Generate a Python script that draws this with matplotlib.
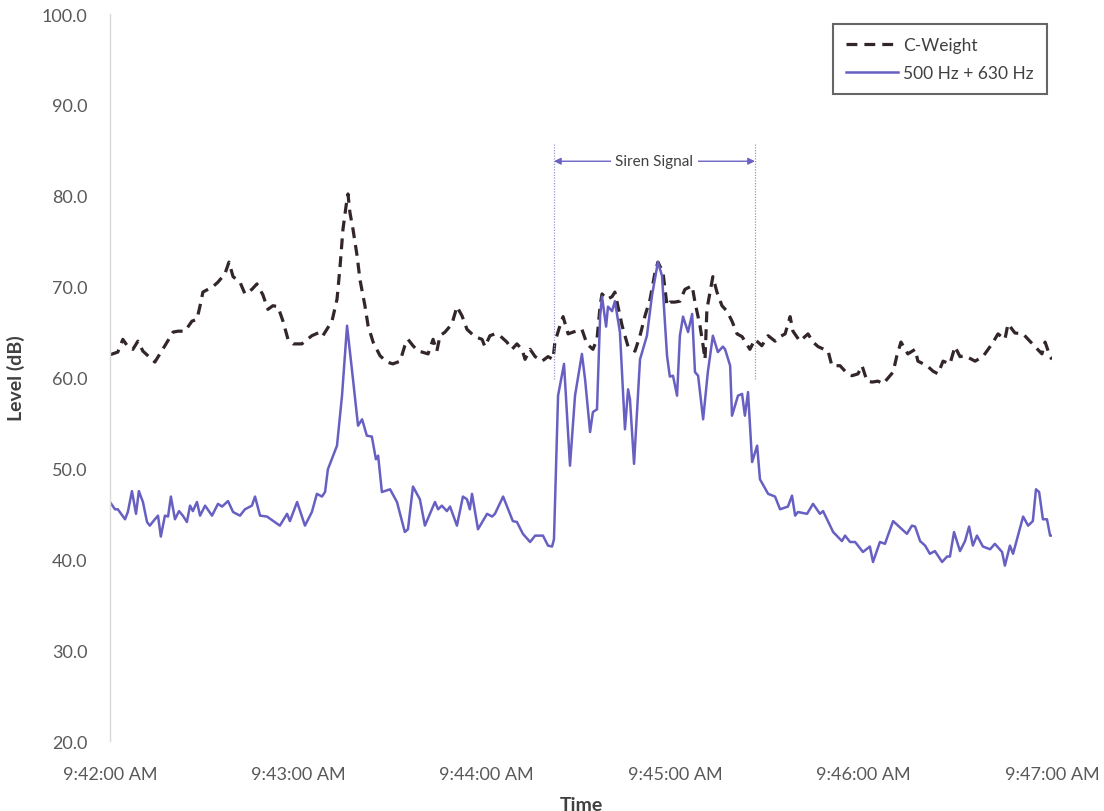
import matplotlib
matplotlib.use("Agg")
import matplotlib.pyplot as plt

plt.rcParams['font.family'] = ['Lato', 'DejaVu Sans']

# Seconds after 9:42:00 AM, C-weighted level (dB)
cw_time = [0, 2.5, 4.1, 5.7, 7.3, 8.9, 10.5, 12.1, 14.3, 15.9, 17.5, 20.1, 21.7, 23.9, 26.1,
           27.7, 28.7, 29.6, 31.2, 32.8, 34.4, 36.6, 37.9, 39.2, 41.4, 43.0, 45.2, 46.8, 48.7,
           50.3, 51.9, 53.5, 55.1, 56.7, 58.3, 61.1, 64.3, 66.9, 67.8, 70.7, 72.3, 73.2, 74.2,
           75.2, 75.8, 76.4, 77.4, 78.7, 79.6, 81.2, 82.2, 83.8, 86.0, 88.2, 90.1, 92.4, 93.9,
           94.9, 96.5, 98.1, 99.4, 101.3, 102.9, 104.1, 105.1, 106.7, 108.9, 110.5, 112.1,
           113.7, 116.2, 118.5, 119.4, 121.0, 122.6, 124.2, 126.4, 128.0, 129.6, 131.2, 132.2,
           133.8, 135.4, 137.6, 139.5, 141.1, 141.7, 143.3, 144.3, 145.9, 147.5, 150.3, 151.9,
           153.8, 155.1, 156.1, 156.7, 158.3, 159.9, 160.8, 161.8, 163.1, 165.0, 167.2, 168.8,
           170.4, 172.0, 173.6, 174.5, 176.1, 177.4, 178.3, 179.9, 181.5, 183.1, 185.4, 186.3,
           187.9, 188.9, 189.5, 190.1, 191.1, 192.0, 193.3, 194.9, 196.5, 198.1, 199.7, 201.3,
           203.8, 205.4, 207.6, 209.6, 211.8, 213.4, 215.0, 216.6, 217.5, 219.7, 222.3, 223.9,
           225.5, 228.7, 229.9, 232.5, 234.1, 236.3, 238.2, 239.5, 241.1, 242.7, 244.6, 246.2,
           249.4, 250.6, 251.9, 254.1, 256.4, 257.3, 260.2, 262.1, 263.7, 265.3, 267.5, 269.1,
           270.7, 272.3, 275.5, 278.0, 280.9, 282.8, 285.0, 286.0, 288.2, 290.8, 292.4, 294.6,
           296.8, 297.8, 299.4, 300]
cw_level = [62.5, 62.8, 64.2, 63.4, 63.1, 64.0, 62.9, 62.4, 61.7, 62.6, 63.5, 65.0, 65.1, 65.1,
            66.2, 66.4, 67.9, 69.4, 69.7, 70.0, 70.5, 71.4, 72.7, 71.1, 70.5, 69.2, 69.7, 70.3,
            69.1, 67.5, 67.9, 67.8, 66.2, 64.2, 63.7, 63.7, 64.6, 65.0, 64.6, 66.2, 68.6, 71.9,
            76.3, 78.9, 80.2, 78.2, 76.3, 73.4, 70.8, 67.9, 65.7, 63.9, 62.4, 61.7, 61.5, 61.8,
            63.5, 64.2, 63.5, 62.9, 62.8, 62.6, 64.2, 62.9, 64.6, 65.0, 65.9, 67.8, 66.8, 65.3,
            64.5, 64.2, 63.4, 64.6, 64.8, 64.6, 63.9, 63.1, 63.7, 63.1, 62.0, 63.1, 62.3, 61.8,
            62.3, 62.0, 63.9, 65.7, 66.7, 64.8, 65.0, 65.3, 63.7, 63.1, 64.2, 67.9, 69.2, 68.6,
            68.9, 69.4, 67.8, 65.7, 63.4, 62.9, 64.6, 66.8, 68.6, 71.6, 72.7, 71.6, 67.9, 68.3,
            68.3, 68.4, 69.7, 70.1, 68.3, 65.7, 63.5, 62.0, 67.5, 69.4, 71.1, 69.4, 67.9, 67.3,
            66.2, 64.8, 64.5, 63.1, 64.2, 63.5, 64.6, 64.0, 64.5, 64.8, 66.7, 65.1, 64.0, 64.8,
            63.9, 63.4, 62.9, 61.3, 61.3, 60.7, 60.2, 60.4, 61.3, 59.6, 59.5, 59.6, 59.3, 60.6,
            62.4, 63.9, 62.6, 63.1, 61.8, 61.3, 60.7, 60.4, 61.8, 61.5, 63.4, 62.3, 62.4, 61.8,
            62.3, 63.7, 64.8, 64.2, 65.9, 64.9, 64.8, 64.2, 63.4, 62.6, 63.9, 62.3, 62.0]

# Seconds after 9:42:00 AM, 500 Hz + 630 Hz band level (dB)
band_time = [0, 1.6, 2.5, 4.8, 5.7, 7.0, 8.3, 9.2, 10.5, 11.8, 12.7, 14.3, 15.3, 16.2, 17.5,
             18.5, 19.4, 20.7, 22.0, 23.2, 24.5, 25.5, 26.4, 27.7, 28.7, 30.3, 32.5, 34.4, 35.7,
             37.6, 39.2, 41.4, 43.0, 45.2, 46.2, 47.8, 50.0, 54.1, 56.4, 57.3, 59.6, 62.1, 64.3,
             65.9, 67.5, 68.5, 69.4, 72.3, 73.9, 75.5, 77.4, 79.0, 80.3, 81.8, 83.4, 84.7, 85.4,
             86.6, 89.2, 91.4, 93.9, 94.9, 96.5, 98.7, 100.3, 103.5, 104.5, 105.7, 107.3, 108.3,
             110.5, 112.4, 113.7, 114.6, 115.3, 117.2, 120.1, 121.7, 122.6, 125.2, 128.3, 129.6,
             131.5, 133.8, 135.4, 137.9, 139.5, 140.8, 141.4, 142.7, 144.6, 146.5, 148.1, 150.3,
             151.3, 152.9, 153.8, 155.1, 156.1, 156.7, 158.0, 158.6, 159.9, 160.8, 162.4, 164.0,
             165.0, 165.6, 166.9, 168.8, 171.0, 172.6, 174.5, 175.8, 177.4, 178.3, 179.3, 180.6,
             181.5, 182.5, 184.1, 185.4, 186.3, 187.3, 188.9, 190.4, 192.0, 193.6, 195.2, 195.9,
             197.5, 198.1, 200.0, 201.3, 202.2, 203.2, 204.5, 206.1, 207.0, 209.6, 211.8, 213.4,
             215.9, 217.2, 218.2, 219.1, 222.0, 223.9, 226.1, 227.1, 230.3, 233.1, 234.1, 235.7,
             237.3, 239.8, 242.0, 243.0, 245.2, 246.8, 249.4, 252.2, 253.8, 255.4, 256.4, 258.0,
             259.6, 261.1, 262.7, 265.0, 266.6, 267.5, 268.8, 270.7, 272.3, 273.6, 274.8, 276.1,
             278.0, 280.3, 281.8, 284.1, 285.0, 286.6, 287.6, 290.8, 292.4, 293.9, 294.9, 295.9,
             297.1, 298.4, 299.4, 300.3]
band_level = [46.3, 45.5, 45.5, 44.4, 45.2, 47.5, 45.0, 47.5, 46.3, 44.1, 43.7, 44.4, 44.8,
              42.5, 44.8, 44.7, 46.9, 44.4, 45.3, 44.8, 44.1, 45.9, 45.3, 46.3, 44.8, 45.9,
              44.8, 46.1, 45.8, 46.4, 45.2, 44.8, 45.5, 45.9, 46.9, 44.8, 44.7, 43.7, 45.0,
              44.2, 46.3, 43.7, 45.2, 47.2, 46.9, 47.4, 49.9, 52.5, 58.0, 65.7, 59.8, 54.7,
              55.4, 53.6, 53.5, 51.0, 51.4, 47.4, 47.7, 46.3, 43.0, 43.3, 48.0, 46.6, 43.7,
              46.3, 45.5, 45.9, 45.3, 45.8, 43.7, 46.9, 46.6, 45.5, 47.2, 43.3, 45.0, 44.7,
              45.0, 46.9, 44.2, 44.1, 42.8, 41.9, 42.6, 42.6, 41.5, 41.4, 42.2, 58.0, 61.5,
              50.3, 58.0, 62.6, 59.8, 54.0, 56.2, 56.5, 66.8, 68.9, 65.6, 67.8, 67.3, 68.4,
              65.0, 54.3, 58.7, 57.6, 50.5, 62.0, 64.6, 69.0, 72.7, 71.2, 62.4, 60.1, 60.2,
              58.0, 64.6, 66.7, 65.0, 67.0, 60.6, 60.2, 55.4, 60.6, 64.6, 62.8, 63.4, 63.1,
              61.3, 55.8, 58.0, 58.2, 55.8, 58.4, 50.7, 52.5, 48.8, 47.2, 46.9, 45.5, 45.8,
              47.0, 44.8, 45.2, 45.0, 46.1, 45.0, 45.3, 43.0, 42.0, 42.6, 41.9, 41.9, 40.8,
              41.4, 39.7, 41.9, 41.7, 44.2, 43.3, 42.8, 43.7, 43.6, 42.0, 41.5, 40.6, 40.9,
              39.7, 40.3, 40.3, 43.0, 40.9, 42.0, 43.6, 41.5, 42.6, 41.4, 41.1, 41.7, 40.8,
              39.3, 41.5, 40.6, 44.7, 43.7, 44.2, 47.7, 47.4, 44.4, 44.4, 42.6, 42.6]

x_ticks = [0, 60, 120, 180, 240, 300]
x_tick_labels = ['9:42:00 AM', '9:43:00 AM', '9:44:00 AM', '9:45:00 AM', '9:46:00 AM', '9:47:00 AM']
y_ticks = [20, 30, 40, 50, 60, 70, 80, 90, 100]

# Siren window (seconds after 9:42:00 AM)
siren_start, siren_end = 141.4, 205.4

CW_COLOR = '#33262a'
BAND_COLOR = '#6760c2'
TEXT_GRAY = '#595959'

fig = plt.figure(figsize=(11.04, 8.12), dpi=100)
ax = fig.add_axes([0.0996, 0.0862, 0.8533, 0.8953])

ax.plot(cw_time, cw_level, color=CW_COLOR, lw=2.3, linestyle=(0, (3.4, 2.2)), label='C-Weight')
ax.plot(band_time, band_level, color=BAND_COLOR, lw=1.8, label='500 Hz + 630 Hz')

ax.set_xlim(0, 300)
ax.set_ylim(20, 100)
ax.set_xticks(x_ticks)
ax.set_xticklabels(x_tick_labels)
ax.set_yticks(y_ticks)
ax.set_yticklabels([f'{v:.1f}' for v in y_ticks])
ax.tick_params(axis='both', length=0, labelsize=13, colors=TEXT_GRAY)
ax.tick_params(axis='x', pad=18)
ax.tick_params(axis='y', pad=16)

for side in ('top', 'right', 'bottom'):
    ax.spines[side].set_visible(False)
ax.spines['left'].set_color('#d9d9d9')
ax.spines['left'].set_linewidth(1.0)

ax.set_xlabel('Time', fontsize=14, fontweight='bold', color='#404040', labelpad=10)
ax.set_ylabel('Level (dB)', fontsize=14, fontweight='bold', color='#404040', labelpad=12)

# Siren signal window markers
for xs in (siren_start, siren_end):
    ax.plot([xs, xs], [59.8, 85.8], color='#9a98c8', lw=0.9, linestyle=(0, (1, 1.2)))
ax.annotate('', xy=(siren_start, 83.8), xytext=(siren_end, 83.8),
            arrowprops=dict(arrowstyle='<|-|>', color='#6a62c4', lw=1.0,
                            mutation_scale=10, shrinkA=0, shrinkB=0))
ax.text((siren_start + siren_end) / 2, 83.8, 'Siren Signal', ha='center', va='center',
        fontsize=11, color='#404040',
        bbox=dict(facecolor='white', edgecolor='none', pad=3))

leg = ax.legend(loc='upper right', bbox_to_anchor=(1.0, 0.993), fontsize=12.5,
                frameon=True, fancybox=False, handlelength=3.0, handletextpad=0.3,
                borderpad=0.75, labelspacing=0.65, borderaxespad=0.3)
leg.get_frame().set_edgecolor('#404040')
leg.get_frame().set_linewidth(1.5)
for t in leg.get_texts():
    t.set_color('#404040')

fig.savefig('out.png', dpi=100, facecolor='white')
